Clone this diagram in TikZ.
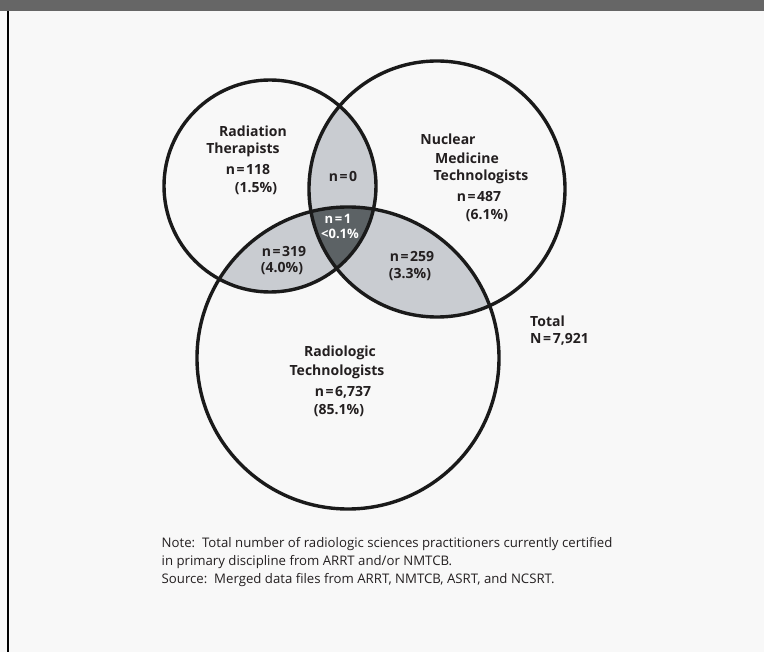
\documentclass[tikz,border=0pt]{standalone}
\usepackage{fontspec}
\setmainfont{Open Sans}
\newcommand{\myeq}{\kern1.6pt=\kern1.6pt}
\begin{document}
\begin{tikzpicture}[x=1pt,y=-1pt,
  lab/.style={inner sep=0pt, text=txt, font=\fontsize{14}{17}\selectfont\bfseries},
  wlab/.style={lab, text=white, font=\fontsize{13}{16}\selectfont\bfseries},
  notetxt/.style={inner sep=0pt, anchor=west, text=txt, font=\fontsize{13.2}{15}\selectfont},
  ring/.style={draw=ringc, line width=3.4pt}]
\definecolor{bg}{HTML}{F8F8F8}
\definecolor{bar}{HTML}{666666}
\definecolor{light}{HTML}{C9CCD1}
\definecolor{dark}{HTML}{5C6265}
\definecolor{txt}{HTML}{231F20}
\definecolor{ringc}{HTML}{1A1A1A}
\useasboundingbox (0,0) rectangle (764,652);
\fill[bg] (0,0) rectangle (764,652);
\fill[bar] (0,0) rectangle (764,11);
\draw[black, line width=2pt] (8,11) -- (8,652);
% circle centres
\coordinate (c1) at (270,186);
\coordinate (c2) at (437,189);
\coordinate (c3) at (348,358);
% pairwise overlaps
\begin{scope}\clip (c1) circle[radius=106]; \fill[light] (c2) circle[radius=128];\end{scope}
\begin{scope}\clip (c1) circle[radius=106]; \fill[light] (c3) circle[radius=151];\end{scope}
\begin{scope}\clip (c2) circle[radius=128]; \fill[light] (c3) circle[radius=151];\end{scope}
% triple overlap
\begin{scope}\clip (c1) circle[radius=106]; \clip (c2) circle[radius=128]; \fill[dark] (c3) circle[radius=151];\end{scope}
% outlines
\draw[ring] (c1) circle[radius=106];
\draw[ring] (c2) circle[radius=128];
\draw[ring] (c3) circle[radius=151];
% Radiation Therapists
\node[lab] (rt1) at (253,131) {Radiation};
\node[lab] (rt2) at (243,150) {Therapists};
\node[lab] (rt3) at (248,170) {n\myeq118};
\node[lab] (rt4) at (256,189) {(1.5\%)};
% Nuclear Medicine
\node[lab] (nm1) at (448,139) {Nuclear};
\node[lab] (nm2) at (467,158) {Medicine};
\node[lab] (nm3) at (481,177) {Technologists};
\node[lab] (nm4) at (479,197) {n\myeq487};
\node[lab] (nm5) at (487,216) {(6.1\%)};
% overlaps
\node[lab] (o12) at (343,176) {n\myeq0};
\node[wlab] (o1a) at (338,219) {n\myeq1};
\node[wlab] (o1b) at (340,234) {<0.1\%};
\node[lab] (o13a) at (284,252) {n\myeq319};
\node[lab] (o13b) at (282,269) {(4.0\%)};
\node[lab] (o23a) at (412,257) {n\myeq259};
\node[lab] (o23b) at (410,275) {(3.3\%)};
% Radiologic Technologists
\node[lab] (r1) at (340,353) {Radiologic};
\node[lab] (r2) at (337,372) {Technologists};
\node[lab] (r3) at (343,392) {n\myeq6,737};
\node[lab] (r4) at (339,411) {(85.1\%)};
% Total
\node[lab, anchor=west] (t1) at (530,321) {Total};
\node[lab, anchor=west] (t2) at (530,339) {N\myeq7,921};
% Note
\node[notetxt] (n1) at (161.5,544) {Note:\ \ Total number of radiologic sciences practitioners currently certified};
\node[notetxt] (n2) at (161.5,562) {in primary discipline from ARRT and/or NMTCB.};
\node[notetxt] (n3) at (161.5,580) {Source:\ \ Merged data files from ARRT, NMTCB, ASRT, and NCSRT.};
\end{tikzpicture}
\end{document}
